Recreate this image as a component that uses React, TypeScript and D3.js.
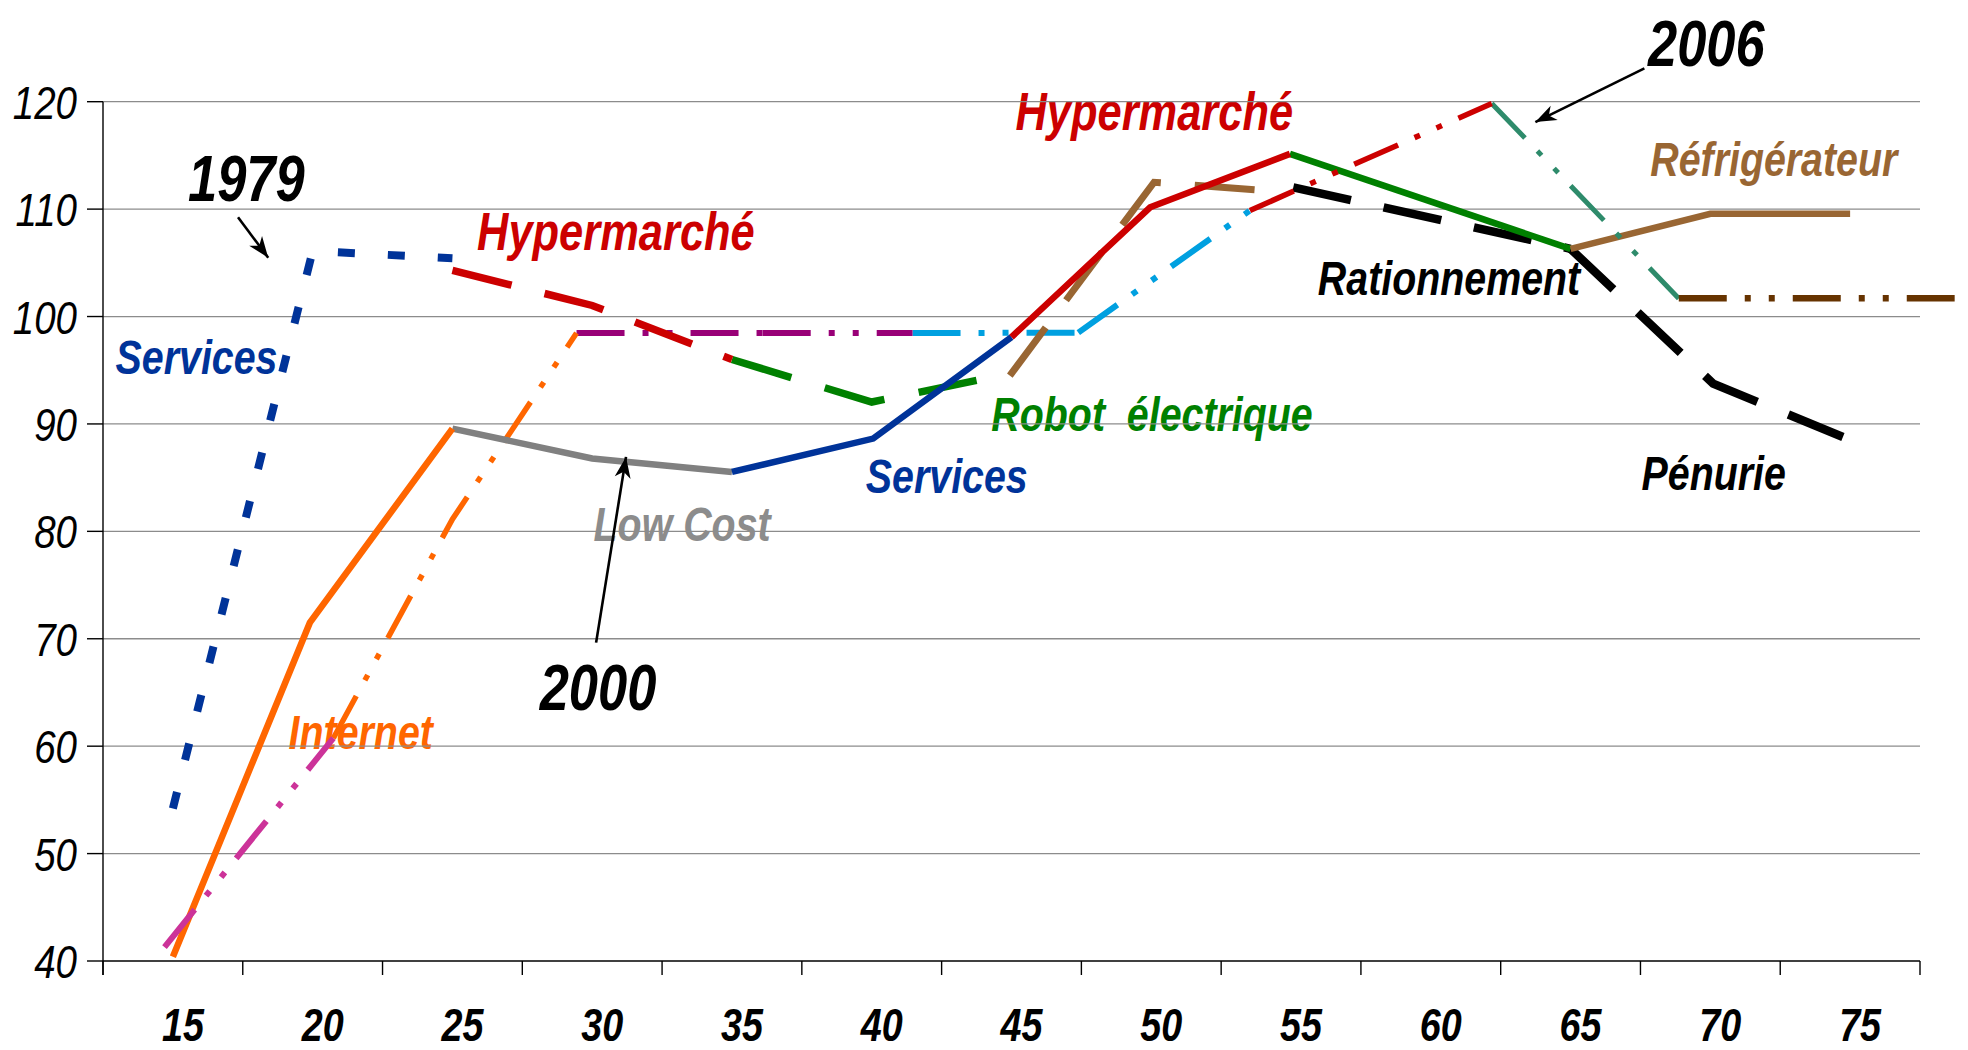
import React from 'react';
import * as d3 from 'd3';

// ---------- data ----------
const xTickLabels = [15, 20, 25, 30, 35, 40, 45, 50, 55, 60, 65, 70, 75];
const yTickValues = [40, 50, 60, 70, 80, 90, 100, 110, 120];

// [age, index]
const services1979 = [[15, 54.2], [20, 106.1], [25, 105.43]];
const hypermarche1 = [[25, 104.3], [30, 101.03], [35, 96.0]];
const robot1 = [[35, 96.0], [40, 92.04], [43.75, 94.06]];
const lowCost = [[25, 89.57], [30, 86.78], [35, 85.53]];
const servicesSolid = [[35, 85.53], [40.05, 88.64], [45, 98.09]];
const internetSolid = [[15, 40.4], [19.9, 71.5], [25, 89.57]];
const pinkDashDot = [[14.7, 41.3], [20.74, 60.74]];
const orangeDashDot = [[20.74, 60.74], [25, 81.13], [29.44, 98.46]];
const purpleA = [[29.44, 98.46], [36.1, 98.46]];
const purpleB = [[36.1, 98.46], [41.46, 98.46]];
const lightBlueA = [[41.46, 98.46], [47.39, 98.5]];
const lightBlueB = [[47.39, 98.5], [53.53, 109.87]];
const hypermarche2 = [[45, 98.09], [49.96, 110.17], [54.96, 115.14]];
const refrigDashed = [[44.94, 94.5], [50.1, 112.5], [53.7, 111.8]];
const redDashDot = [[53.53, 109.87], [62.18, 119.84]];
const robot2 = [[54.96, 115.14], [65, 106.3]];
const rationnement = [[55.08, 112.03], [65, 106.3]];
const penurie = [[65, 106.3], [70.1, 93.75], [74.88, 88.64]];
const tealDashDot = [[62.18, 119.84], [68.87, 101.68]];
const brownDashDot = [[68.87, 101.7], [78.74, 101.7]];
const refrigSolid = [[65, 106.3], [70, 109.56], [75, 109.56]];

// annotations: [text, age, value]
const labelTexts = [
  ['1979', 15.54, 110.72],
  ['Services', 12.95, 94.62],
  ['Hypermarché', 25.88, 106.15],
  ['Low Cost', 30.05, 79.09],
  ['2000', 28.12, 63.34],
  ['Internet', 19.14, 59.75],
  ['Services', 39.79, 83.55],
  ['Robot  électrique', 44.28, 89.36],
  ['Hypermarché', 45.14, 117.4],
  ['2006', 67.77, 123.32],
  ['Réfrigérateur', 67.85, 113.05],
  ['Rationnement', 55.96, 101.96],
  ['Pénurie', 67.54, 83.88],
];

// arrows: [fromAge, fromVal, toAge, toVal]
const arrows = [
  [17.33, 109.24, 18.41, 105.48],
  [30.14, 69.64, 31.21, 86.93],
  [67.64, 123.1, 63.74, 118.1],
];

// ---------- styles ----------
const DDD = '48 18 6 18 6 18';
const seriesList = [
  { d: rationnement, c: '#000000', w: 8.5, dash: '59 33.5' },
  { d: penurie, c: '#000000', w: 8.5, dash: '59 33.5' },
  { d: robot2, c: '#008000', w: 6.5, dash: null },
  { d: refrigSolid, c: '#996633', w: 6.5, dash: null },
  { d: tealDashDot, c: '#2E8B6B', w: 5, dash: DDD },
  { d: brownDashDot, c: '#663300', w: 6.5, dash: DDD },
  { d: redDashDot, c: '#CC0000', w: 5.5, dash: DDD },
  { d: lightBlueA, c: '#00A0E0', w: 6, dash: DDD },
  { d: lightBlueB, c: '#00A0E0', w: 6, dash: DDD },
  { d: purpleA, c: '#990077', w: 6, dash: DDD },
  { d: purpleB, c: '#990077', w: 6, dash: DDD },
  { d: orangeDashDot, c: '#FF6600', w: 5.5, dash: DDD },
  { d: robot1, c: '#008000', w: 7.5, dash: '62 35' },
  { d: hypermarche1, c: '#CC0000', w: 7.5, dash: '61 34' },
  { d: services1979, c: '#003399', w: 8, dash: '17 33' },
  { d: lowCost, c: '#808080', w: 6.5, dash: null },
  { d: servicesSolid, c: '#003399', w: 6.5, dash: null },
  { d: internetSolid, c: '#FF6600', w: 6.5, dash: null },
  { d: pinkDashDot, c: '#CC3399', w: 6, dash: DDD },
  { d: refrigDashed, c: '#996633', w: 7, dash: '60 34' },
  { d: hypermarche2, c: '#CC0000', w: 6.5, dash: null },
];

const labelStyles = {
  '1979': { c: '#000000', s: 64 },
  '2000': { c: '#000000', s: 64 },
  '2006': { c: '#000000', s: 64 },
  Services: { c: '#003399', s: 48 },
  'Hypermarché': { c: '#CC0000', s: 53 },
  'Low Cost': { c: '#8C8C8C', s: 48 },
  Internet: { c: '#FF6600', s: 48 },
  'Robot  électrique': { c: '#008000', s: 48 },
  'Réfrigérateur': { c: '#996633', s: 48 },
  Rationnement: { c: '#000000', s: 48 },
  'Pénurie': { c: '#000000', s: 48 },
};

const FONT = "'Liberation Sans', Arial, sans-serif";
const NARROW = 0.82;

export default function App() {
  const W = 1968, H = 1050;
  const x = d3.scaleLinear().domain([12.5, 77.5]).range([103, 1920]);
  const y = d3.scaleLinear().domain([40, 120]).range([961, 101.7]);
  const line = d3.line<number[]>().x((p) => x(p[0])).y((p) => y(p[1]));
  const bounds = d3.range(0, 14).map((k) => 12.5 + 5 * k);

  return (
    <svg width={W} height={H} style={{ position: 'absolute', left: 0, top: 0, background: '#fff' }}>
      <defs>
        <marker id="ah" viewBox="-22 -9 24 18" refX={0} refY={0} markerWidth={24} markerHeight={18}
          markerUnits="userSpaceOnUse" orient="auto">
          <path d="M0,0 L-21,-8 L-15,0 L-21,8 Z" fill="#000" />
        </marker>
      </defs>
      {/* annotation texts (below everything) */}
      {labelTexts.map(([t, a, v], i) => {
        const st = (labelStyles as any)[t as string];
        return (
          <text key={'l' + i} transform={`translate(${x(a as number)},${y(v as number)}) scale(${NARROW},1)`}
            fill={st.c} fontSize={st.s} fontFamily={FONT} fontWeight="bold" fontStyle="italic"
            style={{ whiteSpace: 'pre' }}>
            {t}
          </text>
        );
      })}
      {/* gridlines */}
      {yTickValues.filter((v) => v > 40).map((v) => (
        <line key={'g' + v} x1={x(12.5)} x2={x(77.5)} y1={y(v)} y2={y(v)} stroke="#8c8c8c" strokeWidth={1.3} />
      ))}
      {/* y axis */}
      <line x1={x(12.5)} x2={x(12.5)} y1={y(120)} y2={y(40) + 14} stroke="#000" strokeWidth={1.4} />
      {yTickValues.map((v) => (
        <g key={'yt' + v}>
          <line x1={x(12.5) - 16} x2={x(12.5)} y1={y(v)} y2={y(v)} stroke="#000" strokeWidth={1.4} />
          <text transform={`translate(77,${y(v) + 17}) scale(${NARROW},1)`} textAnchor="end" fontSize={47}
            fontFamily={FONT} fontStyle="italic" fill="#000">
            {v}
          </text>
        </g>
      ))}
      {/* x axis */}
      <line x1={x(12.5)} x2={x(77.5)} y1={y(40)} y2={y(40)} stroke="#000" strokeWidth={1.4} />
      {bounds.map((b) => (
        <line key={'xt' + b} x1={x(b)} x2={x(b)} y1={y(40)} y2={y(40) + 14} stroke="#000" strokeWidth={1.4} />
      ))}
      {xTickLabels.map((v) => (
        <text key={'xl' + v} transform={`translate(${x(v) + 10},1041) scale(${NARROW},1)`} textAnchor="middle"
          fontSize={46} fontFamily={FONT} fontWeight="bold" fontStyle="italic" fill="#000">
          {v}
        </text>
      ))}
      {/* series */}
      {seriesList.map((s, i) => (
        <path key={'s' + i} d={line(s.d as number[][]) || ''} fill="none" stroke={s.c} strokeWidth={s.w}
          strokeDasharray={s.dash || undefined} strokeLinecap="butt" strokeLinejoin="miter" />
      ))}
      {/* arrows */}
      {arrows.map(([a1, v1, a2, v2], i) => (
        <line key={'a' + i} x1={x(a1)} y1={y(v1)} x2={x(a2)} y2={y(v2)} stroke="#000" strokeWidth={2.6}
          markerEnd="url(#ah)" />
      ))}
    </svg>
  );
}
